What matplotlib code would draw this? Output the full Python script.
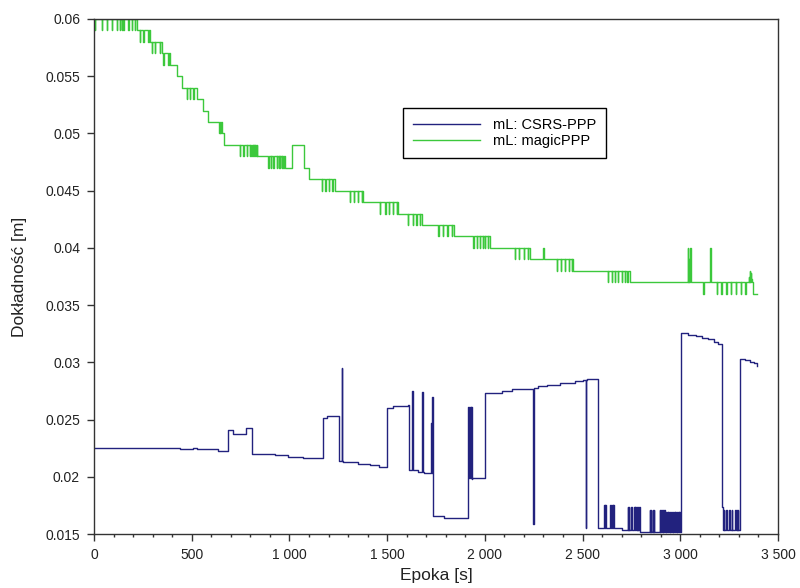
import numpy as np
import matplotlib
matplotlib.use("Agg")
import matplotlib.pyplot as plt
from matplotlib.ticker import MultipleLocator

plt.rcParams['font.family'] = ['Liberation Sans', 'DejaVu Sans']

# --- mL: magicPPP (green) : step levels + short spikes
green_step_x = [0, 218, 287, 346, 389, 423, 449, 525, 559, 585, 653, 664, 833, 977,
                1012, 1075, 1100, 1233, 1378, 1557, 1678, 1842, 2027, 2231, 2452, 2743,
                3372, 3393]
green_step_y = [0.060, 0.059, 0.058, 0.057, 0.056, 0.055, 0.054, 0.053, 0.052, 0.051, 0.050,
                0.049, 0.048, 0.047, 0.049, 0.047, 0.046, 0.045, 0.044, 0.043, 0.042, 0.041,
                0.040, 0.039, 0.038, 0.037, 0.036, 0.036]
green_spike_x = [5, 39, 65, 90, 116, 133, 142, 150, 176, 193, 210,
                 235, 252, 278, 295, 312, 338, 355, 380, 474, 491, 508,
                 638, 642, 646, 650,
                 747, 764, 781, 798, 805, 812, 818, 824, 830,
                 892, 905, 918, 935, 945, 952, 960, 969,
                 1166, 1183, 1200, 1220, 1310, 1330, 1350, 1370,
                 1464, 1490, 1510, 1530, 1550, 1607, 1630, 1650, 1668,
                 1761, 1785, 1808, 1832, 1940, 1958, 1975, 1990, 2000, 2016,
                 2154, 2175, 2200, 2221, 2295, 2300,
                 2368, 2388, 2408, 2428, 2445,
                 2630, 2650, 2665, 2680, 2700, 2715, 2728,
                 3040, 3044, 3048, 3052, 3117, 3153,
                 3187, 3210, 3235, 3260, 3285, 3310, 3332,
                 3350, 3355, 3360, 3364]
green_spike_y = [0.059] * 11 + [0.058] * 3 + [0.057] * 3 + [0.056] * 2 + [0.053] * 3 + \
                [0.050] * 4 + [0.048] * 9 + [0.047] * 8 + [0.045] * 4 + [0.044] * 4 + \
                [0.043] * 5 + [0.042] * 4 + [0.041] * 4 + [0.040] * 6 + [0.039] * 4 + \
                [0.040] * 2 + [0.038] * 5 + [0.037] * 7 + \
                [0.040, 0.039, 0.0395, 0.040, 0.036, 0.040] + [0.036] * 7 + \
                [0.0375, 0.038, 0.0378, 0.0373]

# --- mL: CSRS-PPP (blue)
blue_step_x = [0, 440, 508, 525, 636, 688, 713, 778, 810, 926, 995, 1071, 1170, 1192, 1254,
               1273, 1351, 1410, 1460, 1498, 1530, 1605, 1612, 1660, 1690, 1737, 1790, 1915,
               1935, 2001, 2010, 2090, 2140, 2253, 2274, 2317, 2385, 2462, 2504, 2521, 2578,
               2700, 2794, 3002, 3040, 3080, 3110, 3140, 3170, 3195, 3212, 3218, 3303, 3330,
               3355, 3375, 3391]
blue_step_y = [0.02254, 0.0224, 0.02254, 0.0224, 0.02225, 0.0241, 0.0237, 0.02424, 0.0220,
               0.02188, 0.02176, 0.02161, 0.02514, 0.0253, 0.0214, 0.02125, 0.0211, 0.0210,
               0.02085, 0.0260, 0.0262, 0.0263, 0.0206, 0.02045, 0.02036, 0.01657, 0.01637,
               0.0199, 0.0198, 0.0273, 0.02735, 0.0275, 0.02764, 0.02775, 0.0279, 0.0280,
               0.02817, 0.02837, 0.0285, 0.02857, 0.0155, 0.01535, 0.0152, 0.03254, 0.0324,
               0.0323, 0.0321, 0.0320, 0.0318, 0.0316, 0.0174, 0.01535, 0.0303, 0.0302,
               0.0300, 0.0299, 0.0297]
blue_spike_x = [1268, 1629, 1680, 1726, 1729, 1732,
                1916, 1919, 1922, 1925, 1928, 1931, 1934,
                2248, 2516,
                2612, 2616, 2620, 2641, 2645, 2649, 2653, 2657, 2661,
                2733, 2738, 2750, 2764, 2770, 2776, 2782, 2790,
                2845, 2850, 2858, 2866, 2896, 2902, 2910, 2918,
                2922, 2926, 2930, 2934, 2938, 2942, 2946, 2950, 2954, 2958,
                2962, 2966, 2970, 2974, 2978, 2982, 2986, 2990, 2994, 2998,
                3222, 3232, 3236, 3250, 3264, 3282, 3288, 3294]
blue_spike_y = [0.0295, 0.0275, 0.0274, 0.0247, 0.0247, 0.0270] + [0.0261] * 7 + \
               [0.0159, 0.0155] + [0.0175] * 9 + [0.0174] * 8 + [0.0171] * 8 + \
               [0.01695] * 20 + [0.0171] * 8

x_ticks = [0, 500, 1000, 1500, 2000, 2500, 3000, 3500]
x_tick_labels = ['0', '500', '1 000', '1 500', '2 000', '2 500', '3 000', '3 500']
y_ticks = [0.015, 0.02, 0.025, 0.03, 0.035, 0.04, 0.045, 0.05, 0.055, 0.06]
y_tick_labels = ['0.015', '0.02', '0.025', '0.03', '0.035', '0.04', '0.045', '0.05', '0.055', '0.06']


def build(step_x, step_y, spike_x, spike_y, w=2):
    pts = list(zip(step_x, step_y))
    for sx, sy in zip(spike_x, spike_y):
        base = step_y[np.searchsorted(step_x, sx, side='right') - 1]
        pts += [(sx, sy), (sx + w, base)]
    pts.sort(key=lambda p: p[0])
    xs, ys = zip(*pts)
    return list(xs), list(ys)


gx, gy = build(green_step_x, green_step_y, green_spike_x, green_spike_y)
bx, by = build(blue_step_x, blue_step_y, blue_spike_x, blue_spike_y)

fig = plt.figure(figsize=(8, 5.88), dpi=100)
ax = fig.add_axes([0.1175, 0.0918, 0.855, 0.8759])

ax.step(bx, by, where='post', color='#22227e', lw=1.0, label='mL: CSRS-PPP')
ax.step(gx, gy, where='post', color='#3cc83c', lw=1.0, label='mL: magicPPP')

ax.set_xlim(0, 3500)
ax.set_ylim(0.015, 0.06)
ax.set_xticks(x_ticks)
ax.set_xticklabels(x_tick_labels)
ax.set_yticks(y_ticks)
ax.set_yticklabels(y_tick_labels)
ax.xaxis.set_minor_locator(MultipleLocator(100))

for s in ax.spines.values():
    s.set_color('#333333')
    s.set_linewidth(1.0)
ax.tick_params(which='major', direction='out', length=5, width=1, color='#333333',
               labelsize=10, labelcolor='#222222', pad=5)
ax.tick_params(which='minor', direction='out', length=2.5, width=1, color='#333333')

ax.set_xlabel('Epoka [s]', fontsize=12.5, color='#222222')
ax.set_ylabel('Dokładność [m]', fontsize=12.5, color='#222222')
ax.xaxis.set_label_coords(0.5, -0.066)
ax.yaxis.set_label_coords(-0.098, 0.5)

leg = ax.legend(loc='upper left', bbox_to_anchor=(0.452, 0.827), fancybox=False,
                edgecolor='black', framealpha=1, fontsize=10.5, handlelength=4.6,
                handletextpad=0.85, borderpad=0.7, labelspacing=0.1, borderaxespad=0)
leg.get_frame().set_linewidth(1.0)

fig.savefig('out.png', dpi=100)
